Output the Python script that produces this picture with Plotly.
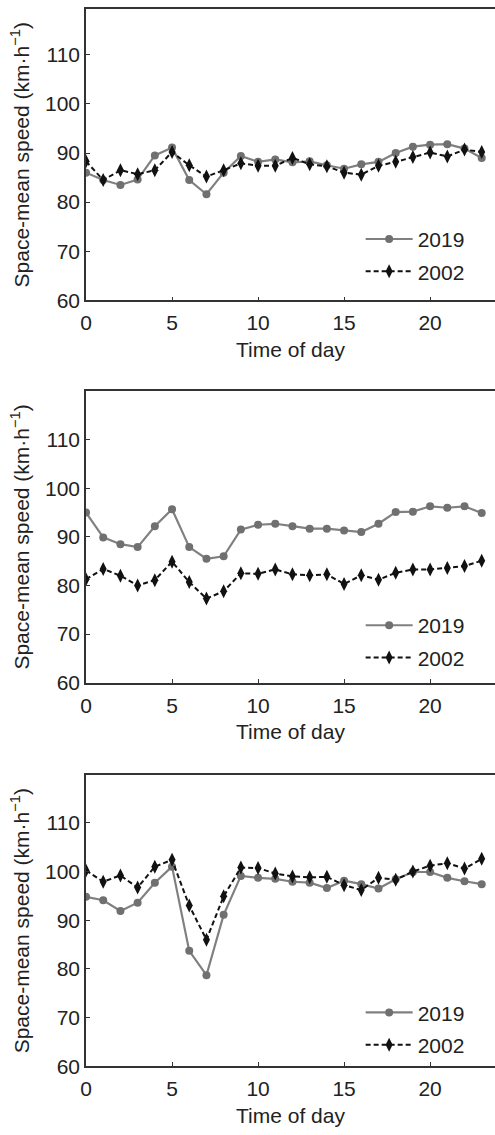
import plotly.graph_objects as go

# Hour of day
hours = list(range(24))

# Panel (a)
speed_2019_a = [86.0, 84.5, 83.5, 84.6, 89.5, 91.1, 84.5, 81.6, 86.0, 89.4, 88.2, 88.7,
                88.1, 88.3, 87.5, 86.8, 87.7, 88.2, 90.0, 91.3, 91.7, 91.8, 90.9, 89.0]
speed_2002_a = [88.3, 84.5, 86.5, 85.7, 86.5, 90.2, 87.5, 85.2, 86.5, 87.9, 87.4, 87.4,
                89.0, 87.7, 87.3, 86.0, 85.6, 87.4, 88.2, 89.2, 90.1, 89.3, 90.7, 90.2]

# Panel (b)
speed_2019_b = [95.0, 89.9, 88.5, 87.9, 92.2, 95.7, 87.9, 85.5, 86.0, 91.5, 92.5, 92.7,
                92.2, 91.7, 91.7, 91.3, 91.0, 92.7, 95.1, 95.2, 96.3, 96.0, 96.3, 94.9]
speed_2002_b = [81.3, 83.4, 82.0, 80.0, 81.1, 84.9, 80.7, 77.3, 78.8, 82.5, 82.4, 83.3,
                82.3, 82.1, 82.3, 80.3, 82.1, 81.2, 82.6, 83.3, 83.3, 83.6, 84.0, 85.1]

# Panel (c)
speed_2019_c = [94.8, 94.1, 91.9, 93.6, 97.7, 101.0, 83.7, 78.7, 91.1, 99.1, 98.7, 98.5,
                97.9, 97.7, 96.6, 98.1, 97.4, 96.5, 98.4, 99.9, 99.9, 98.7, 98.0, 97.4]
speed_2002_c = [100.2, 97.9, 99.2, 96.7, 101.0, 102.4, 93.0, 86.0, 94.9, 100.8, 100.7, 99.6,
                99.0, 98.8, 98.9, 97.2, 96.2, 98.7, 98.3, 100.0, 101.2, 101.7, 100.6, 102.6]

x_ticks = [0, 5, 10, 15, 20]
y_ticks = [60, 70, 80, 90, 100, 110]
series_names = ["2019", "2002"]
x_title = "Time of day"
y_title = "Space-mean speed (km·h<sup>−1</sup>)"

W, H = 495, 1135
FONT = "Liberation Sans, Arial, sans-serif"
FS = 21
TXT = "#222222"
AXC = "#333333"


def py(px):
    """pixel row (from top) -> paper y"""
    return 1 - px / H


panels = [
    # (2019, 2002, top px, bottom px, y max, legend top px)
    (speed_2019_a, speed_2002_a, 9.2, 303.3, 119.3, 221),
    (speed_2019_b, speed_2002_b, 395.0, 689.3, 120.0, 611),
    (speed_2019_c, speed_2002_c, 782.7, 1076.7, 119.8, 1002),
]

x_left = 81 / W
x_max = (W - 81) / 17.415

fig = go.Figure()
layout = dict(
    width=W, height=H,
    margin=dict(l=0, r=0, t=0, b=0),
    paper_bgcolor="white", plot_bgcolor="white",
    font=dict(family=FONT, size=FS, color=TXT),
    showlegend=True,
)

for i, (s19, s02, top, bot, ymax, leg_top) in enumerate(panels):
    n = i + 1
    xa = "x" if n == 1 else f"x{n}"
    ya = "y" if n == 1 else f"y{n}"
    lg = "legend" if n == 1 else f"legend{n}"

    fig.add_trace(go.Scatter(
        x=hours, y=s19, name=series_names[0], mode="lines+markers",
        xaxis=xa, yaxis=ya, legend=lg, legendgroup=f"a{n}",
        line=dict(color="#808080", width=2.2),
        marker=dict(symbol="circle", size=8, color="#707070"),
    ))
    fig.add_trace(go.Scatter(
        x=hours, y=s02, name=series_names[1], mode="lines+markers",
        xaxis=xa, yaxis=ya, legend=lg, legendgroup=f"b{n}",
        line=dict(color="#111111", width=2, dash="5px,3px"),
        marker=dict(symbol="diamond-tall", size=10, color="#111111"),
    ))

    layout[f"xaxis{'' if n == 1 else n}"] = dict(
        domain=[x_left, 1.0], range=[0, x_max], anchor=ya,
        tickvals=x_ticks, ticks="inside", ticklen=4, tickwidth=1.2, tickcolor=AXC,
        ticklabelstandoff=3,
        showline=True, linecolor=AXC, linewidth=1.6, mirror=True,
        showgrid=False, zeroline=False,
        tickfont=dict(size=FS, color=TXT),
        title=dict(text=x_title, font=dict(size=FS, color=TXT), standoff=9),
    )
    layout[f"yaxis{'' if n == 1 else n}"] = dict(
        domain=[py(bot), py(top)], range=[60, ymax], anchor=xa,
        tickvals=y_ticks, ticks="inside", ticklen=4, tickwidth=1.2, tickcolor=AXC,
        showline=True, linecolor=AXC, linewidth=1.6, mirror=False,
        showgrid=False, zeroline=False,
        tickfont=dict(size=FS, color=TXT),
        title=dict(text=y_title, font=dict(size=FS, color=TXT), standoff=10),
    )
    layout[lg] = dict(
        x=359 / W, y=py(leg_top), xanchor="left", yanchor="top",
        bgcolor="rgba(0,0,0,0)", borderwidth=0,
        traceorder="grouped", tracegroupgap=2, itemwidth=47,
        font=dict(size=FS, color=TXT),
    )

fig.update_layout(**layout)
fig.write_html("out.html")
